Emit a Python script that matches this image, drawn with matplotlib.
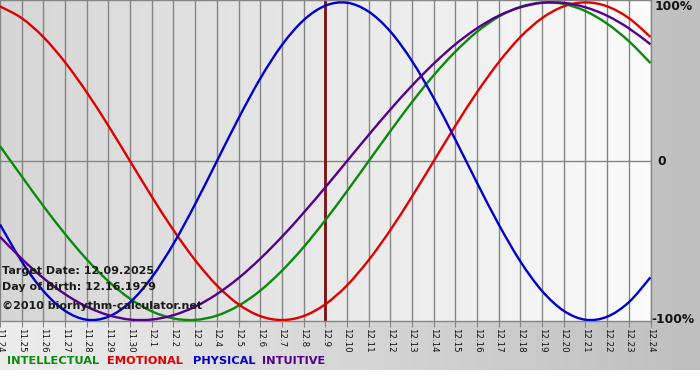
import matplotlib
matplotlib.use("Agg")
import matplotlib.pyplot as plt
import matplotlib.transforms as mtransforms
from matplotlib.path import Path
from matplotlib.patches import PathPatch
import numpy as np

# ===================== 数据 =====================
DAY_LABELS = ["11.24", "11.25", "11.26", "11.27", "11.28", "11.29", "11.30",
              "12.1", "12.2", "12.3", "12.4", "12.5", "12.6", "12.7", "12.8",
              "12.9", "12.10", "12.11", "12.12", "12.13", "12.14", "12.15",
              "12.16", "12.17", "12.18", "12.19", "12.20", "12.21", "12.22",
              "12.23", "12.24"]
TARGET_DAY = "12.9"

intellectual = [0.095, -0.095, -0.282, -0.458, -0.618, -0.756, -0.866, -0.945,
                -0.990, -0.999, -0.972, -0.910, -0.815, -0.690, -0.541, -0.372,
                -0.189, 0.0, 0.189, 0.372, 0.541, 0.690, 0.815, 0.910,
                0.972, 0.999, 0.990, 0.945, 0.866, 0.756, 0.618]
emotional = [0.975, 0.901, 0.782, 0.623, 0.434, 0.223, 0.0, -0.223,
             -0.434, -0.623, -0.782, -0.901, -0.975, -1.0, -0.975, -0.901,
             -0.782, -0.623, -0.434, -0.223, 0.0, 0.223, 0.434, 0.623,
             0.782, 0.901, 0.975, 1.0, 0.975, 0.901, 0.782]
physical = [-0.398, -0.631, -0.817, -0.942, -0.998, -0.979, -0.888, -0.731,
            -0.520, -0.270, 0.0, 0.270, 0.520, 0.731, 0.888, 0.979,
            0.998, 0.942, 0.817, 0.631, 0.398, 0.136, -0.136, -0.398,
            -0.631, -0.817, -0.942, -0.998, -0.979, -0.888, -0.731]
intuitive = [-0.476, -0.614, -0.736, -0.837, -0.916, -0.969, -0.997, -0.997,
             -0.969, -0.916, -0.837, -0.736, -0.614, -0.476, -0.325, -0.165,
             0.0, 0.165, 0.325, 0.476, 0.614, 0.736, 0.837, 0.916,
             0.969, 0.997, 0.997, 0.969, 0.916, 0.837, 0.736]

SERIES_NAMES = ["INTELLECTUAL", "EMOTIONAL", "PHYSICAL", "INTUITIVE"]
SERIES_VALUES = [intellectual, emotional, physical, intuitive]
SERIES_COLORS = ["#0a8a0a", "#e00000", "#0000cc", "#55008a"]
INFO_LINES = ["Target Date: 12.09.2025", "Day of Birth: 12.16.1979",
              "\u00a92010 biorhythm-calculator.net"]


# 平滑曲线：用贝塞尔段连接每日数据点（Catmull-Rom 控制点）
def smooth_path(xs, ys):
    pts = np.column_stack([xs, ys]).astype(float)
    verts = [pts[0]]
    codes = [Path.MOVETO]
    n = len(pts)
    for i in range(n - 1):
        p0 = pts[i - 1] if i > 0 else pts[i]
        p1, p2 = pts[i], pts[i + 1]
        p3 = pts[i + 2] if i + 2 < n else pts[i + 1]
        c1 = p1 + (p2 - p0) / 6.0
        c2 = p2 - (p3 - p1) / 6.0
        verts += [c1, c2, p2]
        codes += [Path.CURVE4] * 3
    return Path(verts, codes)


# ===================== 画布 =====================
W, H = 700, 380
fig = plt.figure(figsize=(W / 100, H / 100), dpi=100)

# 整体背景渐变（左浅右灰，底部白色）
bg = fig.add_axes([0, 0, 1, 1], zorder=-10)
grad = np.linspace(0.93, 0.75, 256)[None, :, None] * np.ones((1, 1, 3))
bg.imshow(grad, extent=[0, 1, 10 / H, 1], aspect="auto", transform=bg.transAxes)
bg.set_xlim(0, 1)
bg.set_ylim(0, 1)
bg.axis("off")

# 绘图区
ax = fig.add_axes([0, (H - 321) / H, 650.5 / W, 321 / H])
x = np.arange(len(DAY_LABELS))
ax.set_xlim(0, len(DAY_LABELS) - 1)
ax.set_ylim(-1.006, 1.015)

pg = np.linspace(0.84, 0.985, 256)[None, :, None] * np.ones((1, 1, 3))
ax.imshow(pg, extent=[0, 1, 0, 1], aspect="auto", transform=ax.transAxes, zorder=0)

GRID_C = "#858585"
for xi in x:
    ax.axvline(xi, color=GRID_C, lw=1, zorder=1)
ax.axhline(0, color=GRID_C, lw=1, zorder=1)
ax.axvline(DAY_LABELS.index(TARGET_DAY), color="#7a1010", lw=2, zorder=2)

for vals, c in zip(SERIES_VALUES, SERIES_COLORS):
    ax.add_patch(PathPatch(smooth_path(x, vals), facecolor="none", edgecolor=c,
                           lw=1.7, zorder=3, capstyle="butt"))

for s in ["top", "bottom", "right"]:
    ax.spines[s].set_color(GRID_C)
    ax.spines[s].set_linewidth(1)
ax.spines["left"].set_visible(False)

ax.set_xticks(x)
ax.set_xticklabels(DAY_LABELS, rotation=270, fontsize=6.2, color="#111111")
ax.tick_params(axis="x", direction="out", length=4, color=GRID_C, pad=1)
ax.set_yticks([])

# 右侧百分比
trans = mtransforms.blended_transform_factory(ax.transAxes, ax.transData)
for yv, lab, dx in [(0.975, "100%", 0.006), (0, "0", 0.011), (-0.995, "-100%", 0.001)]:
    ax.text(1 + dx, yv, lab, transform=trans, fontsize=8.8, fontweight="bold",
            ha="left", va="center", color="#111111", clip_on=False)

# 左下角信息
for i, line in enumerate(INFO_LINES):
    fig.text(2 / W, 1 - (271 + i * 16.5 + (2 if i == 2 else 0)) / H, line,
             fontsize=8, fontweight="bold", color="#1a1a1a", va="center", ha="left")

# 底部图例文字
LEG_X = [7, 107, 193, 262]
for px, name, c in zip(LEG_X, SERIES_NAMES, SERIES_COLORS):
    fig.text(px / W, 1 - 361 / H, name, fontsize=8.2, fontweight="bold",
             color=c, va="center", ha="left")

fig.savefig("out.png", dpi=100)
